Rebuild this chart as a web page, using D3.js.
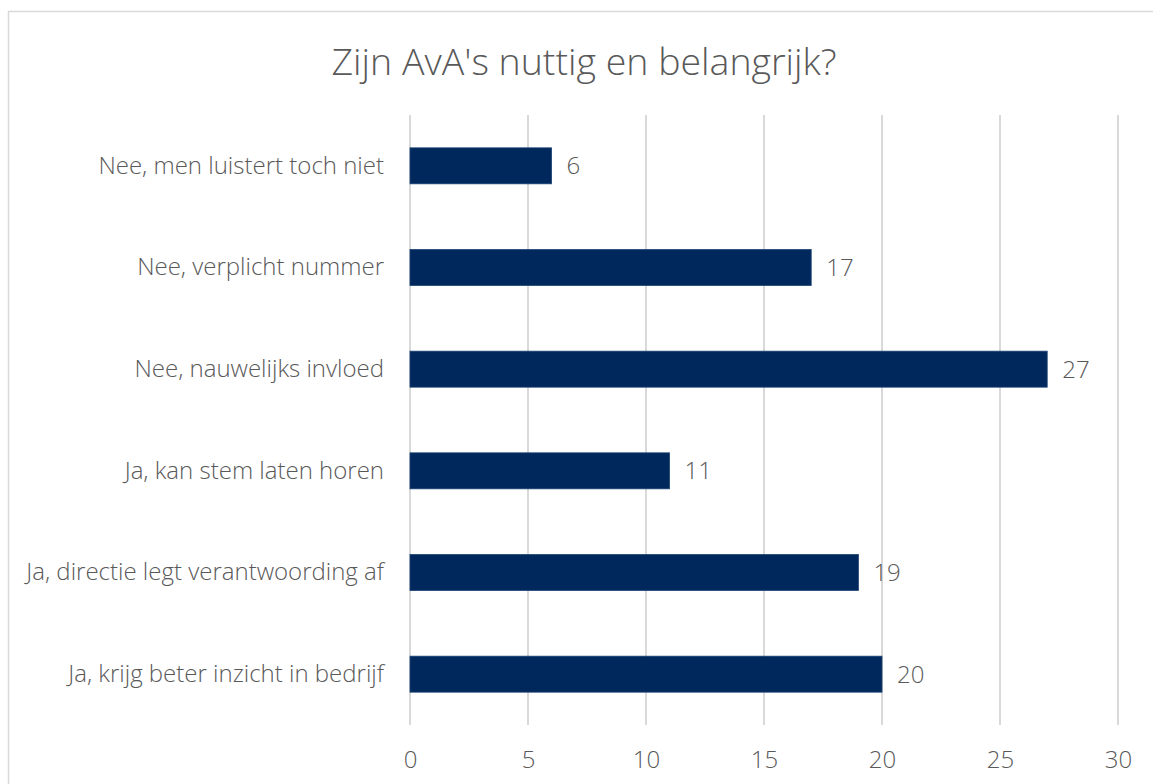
<!DOCTYPE html>
<html>
<head>
<meta charset="utf-8">
<script src="https://cdn.jsdelivr.net/npm/d3@7"></script>
<style>
  body { margin: 0; background: #fff; }
  svg text { font-family: "Open Sans", sans-serif; font-weight: 300; fill: #595959; }
</style>
</head>
<body>
<svg id="chart" width="1153" height="784"></svg>
<script>
// chart data
var categories = ["Nee, men luistert toch niet", "Nee, verplicht nummer", "Nee, nauwelijks invloed",
  "Ja, kan stem laten horen", "Ja, directie legt verantwoording af", "Ja, krijg beter inzicht in bedrijf"];
var values = [6, 17, 27, 11, 19, 20];
var xTicks = [0, 5, 10, 15, 20, 25, 30];
var title = "Zijn AvA's nuttig en belangrijk?";

var svg = d3.select("#chart");

// frame of the chart area
svg.append("rect")
  .attr("x", 8.5).attr("y", 11.5)
  .attr("width", 1160).attr("height", 800)
  .attr("fill", "#fff")
  .attr("stroke", "#d9d9d9")
  .attr("stroke-width", 1.5);

var x = d3.scaleLinear().domain([0, 30]).range([410, 1118]);
var y = d3.scaleBand().domain(categories).range([115, 725])
  .paddingInner(0.646).paddingOuter(0.323);

// gridlines
svg.append("g")
  .selectAll("line")
  .data(xTicks)
  .enter()
  .append("line")
    .attr("x1", function(d){ return x(d) })
    .attr("x2", function(d){ return x(d) })
    .attr("y1", 115)
    .attr("y2", 725)
    .attr("stroke", "#d9d9d9")
    .attr("stroke-width", 2)

// x axis labels
var xAxis = d3.axisBottom(x).tickValues(xTicks).tickSize(0).tickPadding(0);
var gx = svg.append("g").attr("transform", "translate(0,760)").call(xAxis);
gx.select(".domain").remove();
gx.selectAll("text")
  .attr("font-size", 24)
  .attr("dy", "0.35em")
  .style("font-family", "'Open Sans', sans-serif")
  .style("font-weight", 300)
  .style("fill", "#595959");

// category labels
var yAxis = d3.axisLeft(y).tickSize(0).tickPadding(0);
var gy = svg.append("g").attr("transform", "translate(384,0)").call(yAxis);
gy.select(".domain").remove();
gy.selectAll("text")
  .attr("font-size", 24)
  .style("font-family", "'Open Sans', sans-serif")
  .style("font-weight", 300)
  .style("fill", "#595959");

// bars
var rows = categories.map(function(c, i){ return { cat: c, val: values[i] } });
svg.append("g")
  .selectAll("rect")
  .data(rows)
  .enter()
  .append("rect")
    .attr("x", x(0))
    .attr("y", function(d){ return y(d.cat) })
    .attr("width", function(d){ return x(d.val) - x(0) })
    .attr("height", y.bandwidth())
    .attr("fill", "#00285c")
    .attr("stroke", "#1d4373")
    .attr("stroke-width", 0.8)

// value labels
svg.append("g")
  .selectAll("text")
  .data(rows)
  .enter()
  .append("text")
    .attr("x", function(d){ return x(d.val) + 15 })
    .attr("y", function(d){ return y(d.cat) + y.bandwidth() / 2 })
    .attr("dy", "0.35em")
    .attr("font-size", 24)
    .text(function(d){ return d.val })

// title
svg.append("text")
  .attr("x", 584)
  .attr("y", 62)
  .attr("dy", "0.35em")
  .attr("text-anchor", "middle")
  .attr("font-size", 37.5)
  .text(title);
</script>
</body>
</html>
